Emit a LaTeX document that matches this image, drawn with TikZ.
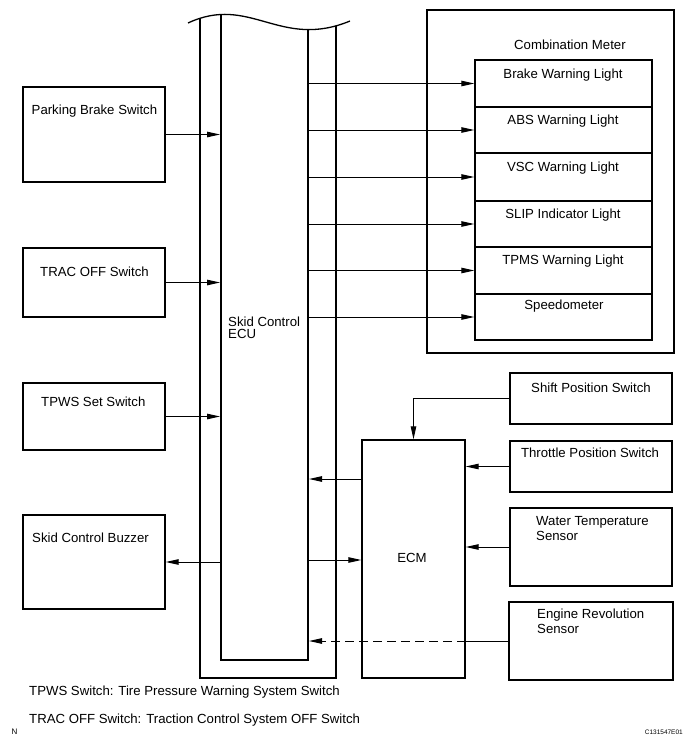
\documentclass[tikz,border=0pt]{standalone}
\usepackage{fontspec}
\setmainfont{Liberation Sans}
\usetikzlibrary{arrows.meta,fit}
\newcommand\labfont{\fontsize{13.2}{15}\selectfont}
\begin{document}
\begin{tikzpicture}[x=1pt,y=-1pt,
  box/.style={draw, line width=1.4pt, inner sep=0pt},
  lbl/.style={anchor=base west, inner sep=0pt, font=\labfont},
  clbl/.style={anchor=base, inner sep=0pt, font=\labfont},
  conn/.style={line width=1pt, -{Triangle[length=13pt,width=5.5pt]}},
  wire/.style={line width=1pt},
]
\useasboundingbox (0,0) rectangle (693,750);

% Skid Control ECU (double outline, wavy top)
\begin{scope}
  \clip (188,23) .. controls (250,-6) and (280,50) .. (350,21) -- (350,760) -- (188,760) -- cycle;
  \node[draw, line width=1.5pt, inner sep=0pt, fit={(200,0) (336,678)}] (ecuo) {};
  \node[draw, line width=2pt, inner sep=0pt, fit={(221,0) (308,660)}] (ecu) {};
\end{scope}
\draw[line width=1.3pt] (188,23) .. controls (250,-6) and (280,50) .. (350,21);
\node[lbl] (tecu1) at (228,326) {Skid Control};
\node[lbl] (tecu2) at (228,338.5) {ECU};

% Left boxes
\node[box, fit={(23,87) (165,182)}] (pbs) {};
\node[lbl] (tpbs) at (31.5,114) {Parking Brake Switch};
\node[box, fit={(23,248) (165,317)}] (trac) {};
\node[lbl] (ttrac) at (40,276) {TRAC OFF Switch};
\node[box, fit={(23,383) (165,450)}] (tpws) {};
\node[lbl] (ttpws) at (41,406) {TPWS Set Switch};
\node[box, fit={(23,515) (165,609)}] (buz) {};
\node[lbl] (tbuz) at (32,542) {Skid Control Buzzer};

\draw[conn] (pbs.east) -- (pbs.east -| ecu.west);
\draw[conn] (trac.east) -- (trac.east -| ecu.west);
\draw[conn] (tpws.east) -- (tpws.east -| ecu.west);
\draw[conn] (buz.east -| ecu.west) -- (buz.east);

% Combination meter
\node[box, fit={(427,10) (674,353)}] (meter) {};
\node[lbl] (tmeter) at (514,49) {Combination Meter};
\node[box, fit={(475,60) (652,107)}] (m1) {};
\node[box, fit={(475,107) (652,153)}] (m2) {};
\node[box, fit={(475,153) (652,201)}] (m3) {};
\node[box, fit={(475,201) (652,247)}] (m4) {};
\node[box, fit={(475,247) (652,294)}] (m5) {};
\node[box, fit={(475,294) (652,340)}] (m6) {};
\node[clbl] (tm1) at (563,78) {Brake Warning Light};
\node[clbl] (tm2) at (563,124) {ABS Warning Light};
\node[clbl] (tm3) at (563,171) {VSC Warning Light};
\node[clbl] (tm4) at (563,218) {SLIP Indicator Light};
\node[clbl] (tm5) at (563,264) {TPMS Warning Light};
\node[clbl] (tm6) at (564,309) {Speedometer};
\foreach \m in {m1,m2,m3,m4,m5,m6}
  \draw[conn] (ecu.east |- \m.west) -- (\m.west);

% ECM and sensors
\node[box, fit={(362,440) (465,678)}] (ecm) {};
\node[clbl] (tecm) at (412,562) {ECM};
\node[box, fit={(510,373) (672,424)}] (sps) {};
\node[clbl] (tsps) at (591,392) {Shift Position Switch};
\node[box, fit={(510,441) (672,492)}] (tps) {};
\node[clbl] (ttps) at (590,457) {Throttle Position Switch};
\node[box, fit={(510,508) (672,586)}] (wts) {};
\node[lbl] (twts1) at (536,525) {Water Temperature};
\node[lbl] (twts2) at (536,540) {Sensor};
\node[box, fit={(509,602) (673,680)}] (ers) {};
\node[lbl] (ters1) at (537,618) {Engine Revolution};
\node[lbl] (ters2) at (537,633) {Sensor};

\coordinate (ya) at (0,479);
\coordinate (yb) at (0,560);
\draw[conn] (sps.west) -| (ecm.north);
\draw[conn] (tps.west) -- (tps.west -| ecm.east);
\draw[conn] (wts.west) -- (wts.west -| ecm.east);
\draw[conn] (ecm.west |- ya) -- (ecu.east |- ya);
\draw[conn] (ecu.east |- yb) -- (ecm.west |- yb);
\draw[wire] (ers.west) -- (ers.west -| ecm.east);
\draw[conn, dash pattern=on 9pt off 5pt] (ers.west -| ecm.east) -- (ers.west -| ecu.east);

% Notes
\node[lbl] (n1) at (29,695) {TPWS Switch: Tire Pressure Warning System Switch};
\node[lbl] (n2) at (29,723) {TRAC OFF Switch: Traction Control System OFF Switch};
\node[anchor=base west, inner sep=0pt, font=\fontsize{8}{9}\selectfont] (nn) at (11.5,734) {N};
\node[anchor=base east, inner sep=0pt, font=\fontsize{6.5}{7}\selectfont] (code) at (683,734) {C131547E01};
\end{tikzpicture}
\end{document}
